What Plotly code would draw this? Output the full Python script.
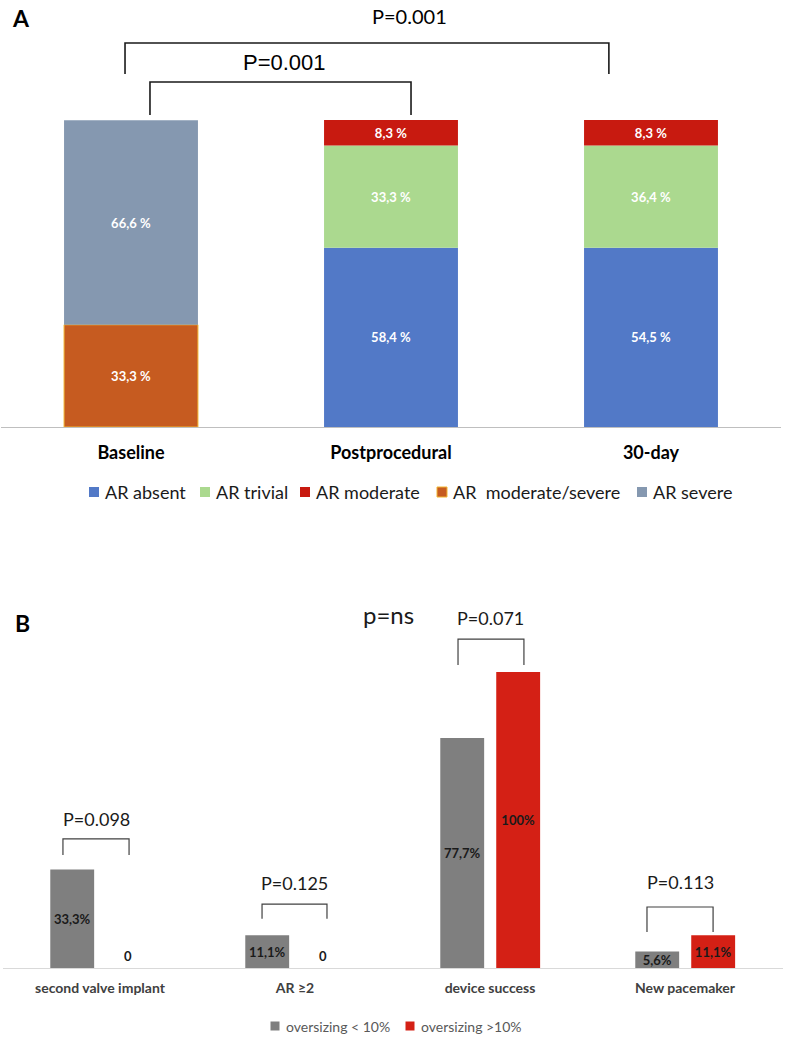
import numpy as np
import plotly.graph_objects as go

# ---- panel A data (stack order bottom -> top) ----
timepoints = ['Baseline', 'Postprocedural', '30-day']
ar_grades = ['AR absent', 'AR trivial', 'AR moderate', 'AR\u00a0 moderate/severe', 'AR severe']
ar_absent = [0, 58.4, 58.4]
ar_trivial = [0, 33.3, 33.3]
ar_moderate = [0, 8.3, 8.3]
ar_mod_severe = [33.3, 0, 0]
ar_severe = [66.6, 0, 0]
ar_labels = [
    ['', '58,4 %', '54,5 %'],
    ['', '33,3 %', '36,4 %'],
    ['', '8,3 %', '8,3 %'],
    ['33,3 %', '', ''],
    ['66,6 %', '', ''],
]
ar_colors = ['#5279c7', '#abd98f', '#c81a10', '#c65b20', '#8598b0']

# ---- panel B data ----
outcomes = ['second valve implant', 'AR \u22652', 'device success', 'New pacemaker']
groups_b = ['oversizing < 10%', 'oversizing >10%']
under10 = [33.3, 11.1, 77.7, 5.6]
over10 = [0, 0, 100, 11.1]
under10_labels = ['33,3%', '11,1%', '77,7%', '5,6%']
over10_labels = ['0', '0', '100%', '11,1%']
p_values_b = ['P=0.098', 'P=0.125', 'P=0.071', 'P=0.113']
colors_b = ['#7f7f7f', '#d42015']

W, H = 787, 1037
FONT = 'Lato'

fig = go.Figure()
shapes = []
annotations = []


def bracket(xl, xr, ytop, ybot, xref, yref, color, width):
    shapes.append(dict(
        type='path', xref=xref, yref=yref,
        path=f'M {xl},{ybot} L {xl},{ytop} L {xr},{ytop} L {xr},{ybot}',
        line=dict(color=color, width=width),
    ))


def label(x, y, text, xref, yref, size, family=FONT, color='black', weight='normal',
          xanchor='center', yanchor='middle', yshift=0):
    annotations.append(dict(
        x=x, y=y, xref=xref, yref=yref, text=text, showarrow=False,
        xanchor=xanchor, yanchor=yanchor, yshift=yshift,
        font=dict(family=family, size=size, color=color, weight=weight),
    ))


def legend_item(x_px, y_px, size, text, color, font_size, font_color, line=None):
    shapes.append(dict(
        type='rect', xref='paper', yref='paper',
        x0=(x_px - size / 2) / W, x1=(x_px + size / 2) / W,
        y0=1 - (y_px + size / 2) / H, y1=1 - (y_px - size / 2) / H,
        fillcolor=color, line=dict(color=line or color, width=1 if line else 0),
    ))
    label((x_px + size / 2 + 4) / W, 1 - y_px / H, text, 'paper', 'paper', font_size,
          color=font_color, xanchor='left')


# stacked bars for panel A, drawn in overlay mode with explicit bases
series_a = np.array([ar_absent, ar_trivial, ar_moderate, ar_mod_severe, ar_severe])
bases = np.vstack([np.zeros(len(timepoints)), np.cumsum(series_a, axis=0)[:-1]])
for i, name in enumerate(ar_grades):
    vals = np.where(series_a[i] > 0, series_a[i], np.nan)
    fig.add_trace(go.Bar(
        name=name, x=timepoints, y=vals, base=bases[i],
        width=0.515, marker_color=ar_colors[i],
        marker_line=dict(color='#f2b632' if i == 3 else ar_colors[i], width=1 if i == 3 else 0),
        text=ar_labels[i], textposition='inside', insidetextanchor='middle',
        constraintext='none',
        textfont=dict(family=FONT, size=13, color='white', weight='bold'),
        xaxis='x', yaxis='y', hoverinfo='skip', showlegend=False,
    ))

# grouped bars for panel B
for vals, labels, col, off in [
    (under10, under10_labels, colors_b[0], -0.255),
    (over10, over10_labels, colors_b[1], 0.032),
]:
    fig.add_trace(go.Bar(
        x=outcomes, y=vals, width=0.225, offset=off,
        marker_color=col, marker_line_width=0,
        text=[t if v > 0 else '' for t, v in zip(labels, vals)],
        textposition='inside', insidetextanchor='middle', constraintext='none',
        textfont=dict(family=FONT, size=13, color='#1a1a1a', weight='bold'),
        xaxis='x2', yaxis='y2', hoverinfo='skip', showlegend=False,
    ))
    # zero-height bars still carry their value label just above the axis
    for j, (t, v) in enumerate(zip(labels, vals)):
        if v == 0:
            label(j + off + 0.1125, 0, t, 'x2', 'y2', 13, color='#1a1a1a', weight='bold',
                  yanchor='bottom', yshift=2)

# panel A significance brackets
bracket(-0.023, 1.838, 125.1, 115.0, 'x', 'y', '#1a1a1a', 1.6)
bracket(0.073, 1.077, 112.4, 101.6, 'x', 'y', '#1a1a1a', 1.6)
label(1.071, 133.9, 'P=0.001', 'x', 'y', 20)
label(0.59, 118.6, 'P=0.001', 'x', 'y', 22, family='Liberation Sans')

# panel B significance brackets
b_brackets = [(-0.19, 0.149, 43.6, 38.2, 50.3),
              (0.831, 1.164, 21.6, 16.6, 28.7),
              (1.836, 2.174, 111.1, 102.4, 118.2),
              (2.805, 3.144, 20.6, 12.2, 29.1)]
for (xl, xr, yt, yb, yt_txt), pv in zip(b_brackets, p_values_b):
    bracket(xl, xr, yt, yb, 'x2', 'y2', '#404040', 1.2)
    label((xl + xr) / 2, yt_txt, pv, 'x2', 'y2', 18, color='#1a1a1a')
label(1.477, 119.3, 'p=ns', 'x2', 'y2', 24, color='#1a1a1a')

# legends
for xc, name, col in zip([94, 205, 305, 442, 642], ar_grades, ar_colors):
    legend_item(xc, 492, 10, name, col, 18, '#1a1a1a', line='#f2b632' if col == '#c65b20' else None)
for xc, name, col in zip([275, 410], groups_b, colors_b):
    legend_item(xc, 1026, 9, name, col, 14, '#595959')

# panel letters
label(0.027, 1 - 18 / H, 'A', 'paper', 'paper', 23, weight='bold')
label(0.029, 1 - 623 / H, 'B', 'paper', 'paper', 23, weight='bold')

fig.update_layout(
    width=W, height=H,
    margin=dict(l=0, r=0, t=0, b=0),
    paper_bgcolor='white', plot_bgcolor='white',
    barmode='overlay',
    showlegend=False,
    shapes=shapes, annotations=annotations,
    xaxis=dict(domain=[1 / W, 781 / W], range=[-0.5, 2.5], anchor='y',
               showline=True, linecolor='#bfbfbf', linewidth=1, showgrid=False,
               zeroline=False, ticks='', ticklabelstandoff=9,
               tickfont=dict(family=FONT, size=18, color='black', weight='bold')),
    yaxis=dict(domain=[1 - 427 / H, 1], range=[0, 427 / 3.07], visible=False),
    xaxis2=dict(domain=[2.5 / W, 782.5 / W], range=[-0.5, 3.5], anchor='y2',
                showline=True, linecolor='#d9d9d9', linewidth=1, showgrid=False,
                zeroline=False, ticks='', ticklabelstandoff=7,
                tickfont=dict(family=FONT, size=14, color='#404040', weight='bold')),
    yaxis2=dict(domain=[1 - 968 / H, 1 - 560 / H], range=[0, 408 / 2.96], visible=False),
)

fig.write_html('out.html', config={'displayModeBar': False},
               post_script="document.body.style.margin='0px';")
